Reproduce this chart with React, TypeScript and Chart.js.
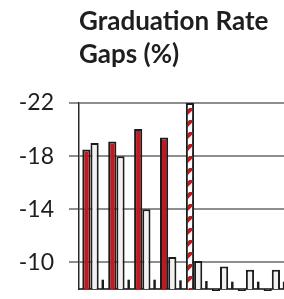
import React, { useEffect, useRef } from "react";
import { Chart, registerables } from "chart.js";

Chart.register(...registerables);

const categories = ["1", "2", "3", "4", "5", "6", "7", "8"];
const redValues = [-18.5, -19.1, -20.05, -19.4, -22, -7.85, -7.85, -7.85];
const whiteValues = [-19.0, -18.0, -14.0, -10.4, -10.1, -9.7, -9.45, -9.45];
const smallValues = [-8.7, -8.7, -8.7, -8.65, -8.6, -8.55, -8.55, -8.55];
const yTicks = [-22, -18, -14, -10];
const titleLines = ["Graduation Rate", "Gaps (%)"];

const RED = "#bf1a21";
const EDGE = "#1c1c1c";

function makeHatch(): CanvasPattern | string {
  const s = 12;
  const c = document.createElement("canvas");
  c.width = s;
  c.height = s;
  const ctx = c.getContext("2d");
  if (!ctx) return RED;
  ctx.fillStyle = "#ffffff";
  ctx.fillRect(0, 0, s, s);
  ctx.strokeStyle = RED;
  ctx.lineWidth = 4;
  ctx.beginPath();
  ctx.moveTo(-2, s + 2);
  ctx.lineTo(s + 2, -2);
  ctx.moveTo(-s - 2, 2);
  ctx.lineTo(2, -s - 2);
  ctx.moveTo(s - 2, 2 * s + 2);
  ctx.lineTo(2 * s + 2, s - 2);
  ctx.stroke();
  return ctx.createPattern(c, "repeat") || RED;
}

export default function App() {
  const ref = useRef<HTMLCanvasElement | null>(null);
  useEffect(() => {
    if (!ref.current) return;
    const hatch = makeHatch();
    const redColors = redValues.map((v) => (v <= -21.99 ? hatch : RED));
    const toPoints = (vals: number[]) => categories.map((_, i) => ({ x: i, y: vals[i] }));
    const chart = new Chart(ref.current, {
      type: "bar",
      data: {
        datasets: [
          {
            data: toPoints(redValues) as any,
            backgroundColor: redColors as any,
            borderColor: EDGE,
            borderWidth: 2,
            base: -8,
            clip: false as any,
          },
          {
            data: toPoints(whiteValues) as any,
            backgroundColor: "#f1f1f1",
            borderColor: EDGE,
            borderWidth: 2,
            base: -8,
            clip: false as any,
          },
          {
            data: toPoints(smallValues) as any,
            backgroundColor: EDGE,
            borderWidth: 0,
            barPercentage: 0.3,
            base: -8,
            clip: false as any,
          },
        ],
      },
      options: {
        animation: false,
        responsive: false,
        layout: { padding: { left: 0, right: 0, top: 0, bottom: 10 } },
        datasets: { bar: { categoryPercentage: 0.95, barPercentage: 1 } } as any,
        plugins: {
          legend: { display: false },
          tooltip: { enabled: false },
          title: {
            display: true,
            text: titleLines,
            align: "start",
            fullSize: false,
            color: "#1e1e1e",
            font: { family: "Lato", size: 26, weight: "bold", lineHeight: 1.27 },
            padding: { top: 5, bottom: 32 },
          },
        },
        scales: {
          x: {
            type: "linear",
            offset: false,
            min: -0.602,
            max: 7.545,
            afterBuildTicks: (s: any) => {
              s.ticks = categories.map((_, i) => ({ value: i }));
            },
            afterFit: (s: any) => {
              s.height = 0;
            },
            ticks: { display: false },
            grid: { display: false },
            border: { display: true, color: "#4a4a4a", width: 2 },
          },
          y: {
            type: "linear",
            reverse: true,
            min: -22,
            max: -8,
            afterBuildTicks: (s: any) => {
              s.ticks = yTicks.map((v) => ({ value: v }));
            },
            afterFit: (s: any) => {
              s.width = 79;
              s.paddingTop = 0;
              s.paddingBottom = 0;
            },
            ticks: {
              color: "#1e1e1e",
              font: { family: "Lato", size: 23 },
              padding: 15,
            },
            grid: {
              color: "#8e8e8e",
              lineWidth: 2,
              tickLength: 10,
              drawTicks: true,
            },
            border: { display: true, color: "#2a2a2a", width: 1.5 },
          },
        },
      },
    });
    return () => chart.destroy();
  }, []);
  return (
    <div
      style={{
        position: "fixed",
        left: 0,
        top: 0,
        width: 284,
        height: 299,
        overflow: "hidden",
        background: "#ffffff",
      }}
    >
      <canvas ref={ref} width={290} height={299} style={{ display: "block", width: 290, height: 299 }} />
    </div>
  );
}
